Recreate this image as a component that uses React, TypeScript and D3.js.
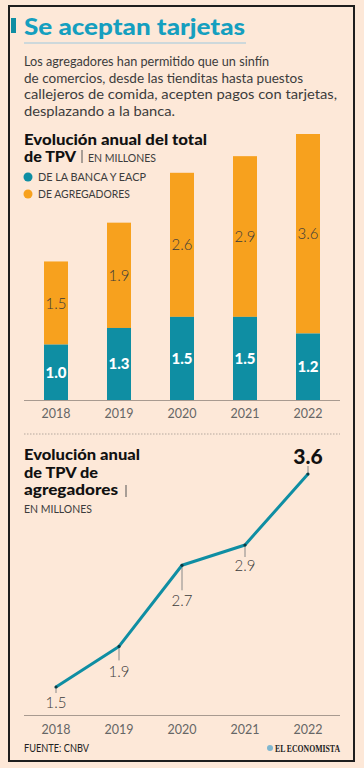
import React from "react";
import * as d3 from "d3";

const years = ["2018", "2019", "2020", "2021", "2022"];
const banca = [1.0, 1.3, 1.5, 1.5, 1.2];
const agregadores = [1.5, 1.9, 2.6, 2.9, 3.6];
const lineValues = [1.5, 1.9, 2.7, 2.9, 3.6];
const lineLabels = ["1.5", "1.9", "2.7", "2.9", "3.6"];

const subtitleLines = [
  "Los agregadores han permitido que un sinfín",
  "de comercios, desde las tienditas hasta puestos",
  "callejeros de comida, acepten pagos con tarjetas,",
  "desplazando a la banca.",
];
const subtitleWidths = [245, 279, 313, 151];

const lineTitle = ["Evolución anual", "de TPV de", "agregadores"];
const lineTitleWidths = [116, 74, 94];

// layout: offsets of line labels under points
const labelDrop = [21, 31, 41, 26, -10];
const leaderEnd = [6, 14, 25, 12, -8];

const BG = "#fde8d8";
const TEAL = "#0f8ea3";
const ORANGE = "#f7a11e";
const TXT = "#3c3c3c";
const FONT = "Lato, 'Open Sans', sans-serif";

export default function App() {
  const x = d3.scalePoint<string>().domain(years).range([56, 308]);
  const yBar = d3.scaleLinear().domain([0, 4.8]).range([400, 134]);
  const yLine = d3.scaleLinear().domain([1.5, 3.6]).range([687, 474]);
  const barW = 24;

  const stacked = years.map((yr, i) => ({
    yr,
    b0: 0,
    b1: banca[i],
    a0: banca[i],
    a1: banca[i] + agregadores[i],
  }));

  const line = d3
    .line<number>()
    .x((_, i) => x(years[i]) as number)
    .y((d) => yLine(d));

  return (
    <svg
      width={364}
      height={768}
      style={{ position: "absolute", left: 0, top: 0, display: "block" }}
      fontFamily={FONT}
    >
      <rect x={0} y={0} width={364} height={768} fill={BG} />
      <rect x={9} y={6} width={345} height={755} fill={BG} stroke="#1e1e1e" strokeWidth={2} />

      {/* Header */}
      <rect x={11} y={18} width={5} height={15} fill={TEAL} />
      <text x={24} y={35} fontSize={23} fontWeight={900} fill="#159fbf" textLength={221} lengthAdjust="spacingAndGlyphs">
        Se aceptan tarjetas
      </text>
      <line x1={24} x2={246} y1={43} y2={43} stroke="#bcd3dc" strokeWidth={1.5} />
      {subtitleLines.map((t, i) => (
        <text key={i} x={24} y={66 + i * 16.7} fontSize={14} fill={TXT} textLength={subtitleWidths[i]} lengthAdjust="spacingAndGlyphs">
          {t}
        </text>
      ))}

      {/* Bar chart title */}
      <text x={24} y={145} fontSize={15} fontWeight={900} fill="#111" textLength={183} lengthAdjust="spacingAndGlyphs">
        Evolución anual del total
      </text>
      <text x={24} y={162} fontSize={15} fontWeight={900} fill="#111" textLength={52} lengthAdjust="spacingAndGlyphs">
        de TPV
      </text>
      <line x1={82} x2={82} y1={150} y2={163} stroke="#555" strokeWidth={1} />
      <text x={88} y={162} fontSize={12} fill={TXT} textLength={68} lengthAdjust="spacingAndGlyphs">
        EN MILLONES
      </text>
      <circle cx={28} cy={177} r={4.5} fill={TEAL} />
      <text x={38} y={181} fontSize={11.5} fill={TXT} textLength={108} lengthAdjust="spacingAndGlyphs">
        DE LA BANCA Y EACP
      </text>
      <circle cx={28} cy={194} r={4.5} fill={ORANGE} />
      <text x={38} y={198} fontSize={11.5} fill={TXT} textLength={92} lengthAdjust="spacingAndGlyphs">
        DE AGREGADORES
      </text>

      {/* Bars */}
      {stacked.map((d, i) => {
        const cx = x(d.yr) as number;
        return (
          <g key={d.yr}>
            <rect x={cx - barW / 2} y={yBar(d.a1)} width={barW} height={yBar(d.a0) - yBar(d.a1)} fill={ORANGE} />
            <rect x={cx - barW / 2} y={yBar(d.b1)} width={barW} height={yBar(d.b0) - yBar(d.b1)} fill={TEAL} />
            <text
              x={cx}
              y={(yBar(d.a0) + yBar(d.a1)) / 2 + 5.5}
              textAnchor="middle"
              fontSize={15}
              fontWeight={300}
              fill="#3a3a3a"
            >
              {agregadores[i].toFixed(1)}
            </text>
            <text
              x={cx}
              y={(yBar(d.b0) + yBar(d.b1)) / 2 + 5.5}
              textAnchor="middle"
              fontSize={15}
              fontWeight={900}
              fill="#ffffff"
            >
              {banca[i].toFixed(1)}
            </text>
            <text x={cx} y={418} textAnchor="middle" fontSize={12.5} fill="#666">
              {d.yr}
            </text>
          </g>
        );
      })}
      <line x1={24} x2={340} y1={400.5} y2={400.5} stroke="#a89a90" strokeWidth={1} />

      {/* separator */}
      <line x1={24} x2={340} y1={434} y2={434} stroke="#b5a89e" strokeWidth={1} strokeDasharray="1.5,1.5" />

      {/* Line chart title */}
      {lineTitle.map((t, i) => (
        <text key={t} x={24} y={460 + i * 17.5} fontSize={15} fontWeight={900} fill="#111" textLength={lineTitleWidths[i]} lengthAdjust="spacingAndGlyphs">
          {t}
        </text>
      ))}
      <line x1={126} x2={126} y1={485} y2={497} stroke="#555" strokeWidth={1} />
      <text x={24} y={513} fontSize={11} fill={TXT} textLength={68} lengthAdjust="spacingAndGlyphs">
        EN MILLONES
      </text>

      {/* leaders */}
      {lineValues.map((v, i) => {
        const cx = x(years[i]) as number;
        const py = yLine(v);
        return (
          <line key={"l" + i} x1={cx} x2={cx} y1={py} y2={py + leaderEnd[i]} stroke="#888" strokeWidth={1} />
        );
      })}
      <path d={line(lineValues) || ""} fill="none" stroke={TEAL} strokeWidth={3} strokeLinejoin="round" />
      {lineValues.map((v, i) => (
        <circle key={"c" + i} cx={x(years[i]) as number} cy={yLine(v)} r={1.6} fill="#0b3b44" />
      ))}
      {lineValues.map((v, i) => {
        const cx = x(years[i]) as number;
        const py = yLine(v);
        const last = i === lineValues.length - 1;
        return (
          <text
            key={"t" + i}
            x={cx}
            y={py + labelDrop[i]}
            textAnchor="middle"
            fontSize={last ? 21 : 15}
            fontWeight={last ? 900 : 300}
            fill={last ? "#111" : "#3a3a3a"}
          >
            {lineLabels[i]}
          </text>
        );
      })}
      <line x1={24} x2={340} y1={715.5} y2={715.5} stroke="#a89a90" strokeWidth={1} />
      {years.map((yr) => (
        <text key={"y" + yr} x={x(yr) as number} y={734} textAnchor="middle" fontSize={12.5} fill="#666">
          {yr}
        </text>
      ))}

      {/* footer */}
      <text x={24} y={752} fontSize={11} fill="#222" textLength={65} lengthAdjust="spacingAndGlyphs">
        FUENTE: CNBV
      </text>
      <circle cx={270} cy={748} r={3} fill="#7fb6cf" />
      <text x={275} y={752} fontSize={10} fontWeight={700} fontFamily="'Liberation Serif', serif" fill="#222" textLength={65} lengthAdjust="spacingAndGlyphs">
        EL ECONOMISTA
      </text>
    </svg>
  );
}
